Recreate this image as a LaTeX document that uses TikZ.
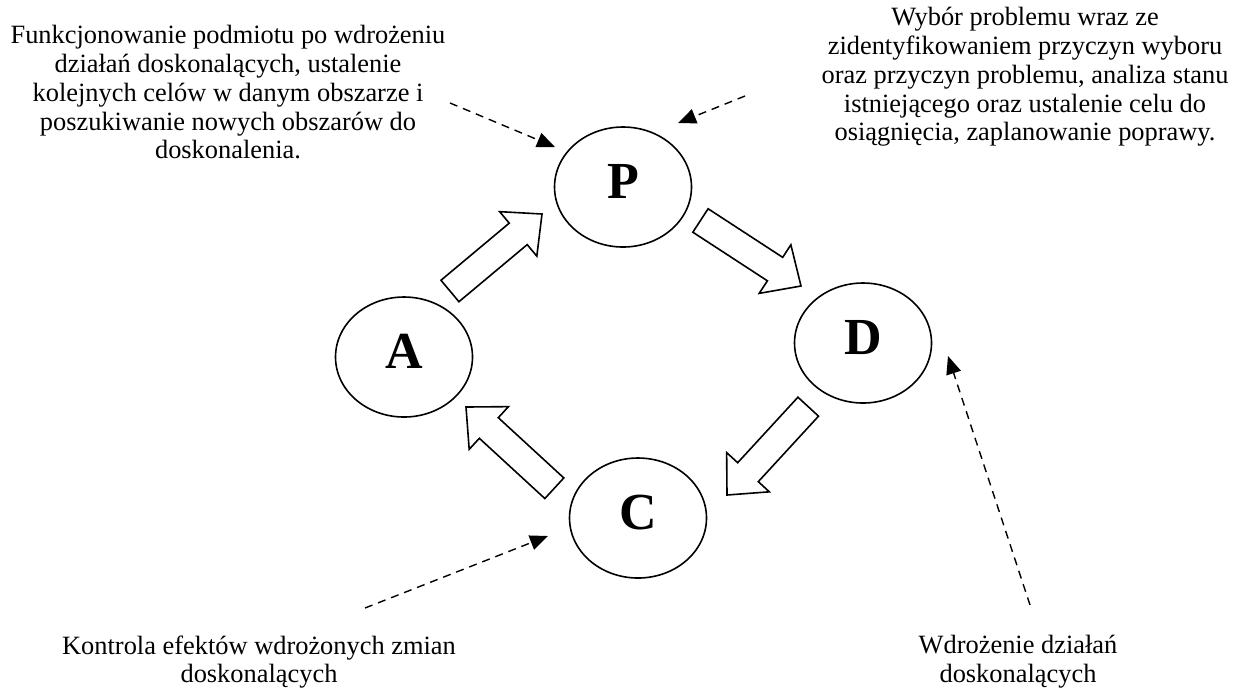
\documentclass[tikz,border=0pt]{standalone}
\usepackage{fontspec}
\setmainfont{Liberation Serif}
\usetikzlibrary{shapes.geometric,arrows.meta}

\tikzset{
  phase/.style={draw,ellipse,line width=0.8pt,minimum width=68.5pt,minimum height=60pt,
    inner sep=0pt,text depth=6pt,font=\fontsize{26}{30}\selectfont\bfseries},
  pics/bigarrow/.style={code={
    \draw[line width=0.8pt,fill=white] (0,0) -- (-15.5pt,14.5pt) -- (-15.5pt,7pt)
      -- (-60pt,7pt) -- (-60pt,-7pt) -- (-15.5pt,-7pt) -- (-15.5pt,-14.5pt) -- cycle;
  }},
  note/.style={align=center,inner sep=0pt,anchor=north,font=\fontsize{13.2}{14.4}\selectfont},
  hint/.style={dash pattern=on 4pt off 3pt,line width=0.7pt,-{Triangle[length=9pt,width=7.5pt]}}
}

\begin{document}
\begin{tikzpicture}[x=0.5pt,y=-0.5pt]
\useasboundingbox (0,0) rectangle (1240,698);

% the four phases
\node[phase] (P) at (623,187) {P};
\node[phase] (D) at (863,343) {D};
\node[phase] (C) at (638,518) {C};
\node[phase] (A) at (404,357) {A};

% cycle arrows (tip at the given point)
\pic[rotate=39.9] (AtoP) at (542,214) {bigarrow};
\pic[rotate=-33.1] (PtoD) at (801,286) {bigarrow};
\pic[rotate=-132.6] (DtoC) at (727,495) {bigarrow};
\pic[rotate=137.4] (CtoA) at (466,407) {bigarrow};

% descriptions
\node[note] (actText) at (228,25) {Funkcjonowanie podmiotu po wdrożeniu\\
  działań doskonalących, ustalenie\\
  kolejnych celów w danym obszarze i\\
  poszukiwanie nowych obszarów do\\
  doskonalenia.};
\node[note] (planText) at (1025,7) {Wybór problemu wraz ze\\
  zidentyfikowaniem przyczyn wyboru\\
  oraz przyczyn problemu, analiza stanu\\
  istniejącego oraz ustalenie celu do\\
  osiągnięcia, zaplanowanie poprawy.};
\node[note] (checkText) at (259,635) {Kontrola efektów wdrożonych zmian\\
  doskonalących};
\node[note] (doText) at (1018,635) {Wdrożenie działań\\
  doskonalących};

% pointers
\coordinate (actFrom) at (450,103);
\coordinate (actTo) at (555,147);
\coordinate (planFrom) at (745,96);
\coordinate (planTo) at (678,123);
\coordinate (checkFrom) at (365,608);
\coordinate (checkTo) at (548,536);
\coordinate (doFrom) at (1030,605);
\coordinate (doTo) at (948,356);

\draw[hint] (actFrom) -- (actTo);
\draw[hint] (planFrom) -- (planTo);
\draw[hint] (checkFrom) -- (checkTo);
\draw[hint] (doFrom) -- (doTo);
\end{tikzpicture}
\end{document}
